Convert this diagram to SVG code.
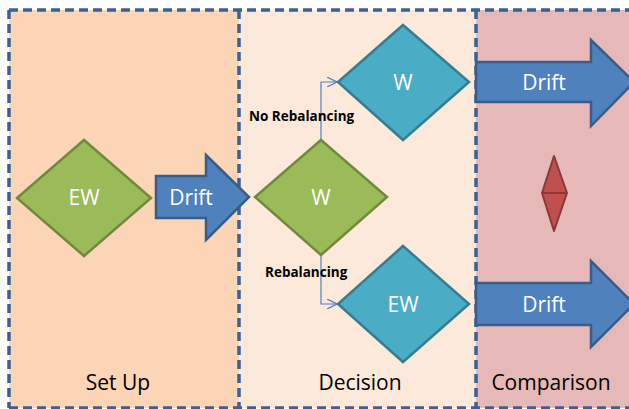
<svg xmlns="http://www.w3.org/2000/svg" width="629" height="409" viewBox="0 0 629 409">
  <style>
    .border { fill: none; stroke: #3A6094; stroke-width: 3.5; stroke-dasharray: 9 5; }
    .green { fill: #9BBB59; stroke: #71893F; stroke-width: 2.5; }
    .teal { fill: #4BACC6; stroke: #357D91; stroke-width: 2.5; }
    .arrow { fill: #4F81BD; stroke: #385D8A; stroke-width: 2.5; stroke-linejoin: miter; }
    .in { font-family: "Open Sans", "Liberation Sans", sans-serif; font-size: 21px; fill: #FFFFFF; text-anchor: middle; }
    .title { font-family: "Open Sans", "Liberation Sans", sans-serif; font-size: 21px; fill: #000000; text-anchor: middle; }
    .edge-label { font-family: "Open Sans", "Liberation Sans", sans-serif; font-size: 13.5px; font-weight: bold; fill: #000000; }
    .link { fill: none; stroke: #4F81BD; stroke-width: 1.2; }
  </style>
  <defs>
    <marker id="open-arrow" viewBox="0 0 10 10" refX="10" refY="5" markerWidth="10" markerHeight="10" markerUnits="userSpaceOnUse" orient="auto">
      <path d="M0,0 L10,5 L0,10" fill="none" stroke="#4F81BD" stroke-width="1.2"/>
    </marker>
  </defs>

  <rect width="629" height="409" fill="#FFFFFF"/>

  <!-- stage panels -->
  <g id="panel-setup">
    <rect x="9" y="10" width="230" height="398" fill="#FBD5B5"/>
    <text class="title" x="118" y="390">Set Up</text>
  </g>
  <g id="panel-decision">
    <rect x="239" y="10" width="237" height="398" fill="#FDE9D9"/>
    <text class="title" x="360" y="390">Decision</text>
  </g>
  <g id="panel-comparison">
    <rect x="476" y="10" width="170" height="398" fill="#E6B9B8"/>
    <text class="title" x="551" y="390">Comparison</text>
  </g>
  <!-- dashed outline and the two dividers, drawn once each -->
  <g id="panel-borders">
    <path class="border" d="M9,10 H646 M9,408 H646 M9,10 V408"/>
    <path class="border" d="M239,10 V408 M476,10 V408"/>
  </g>

  <!-- connectors -->
  <g id="connectors">
    <path class="link" d="M321,140 V82 H337" marker-end="url(#open-arrow)"/>
    <path class="link" d="M321,255 V304 H337" marker-end="url(#open-arrow)"/>
    <text class="edge-label" x="249" y="121">No Rebalancing</text>
    <text class="edge-label" x="265" y="277">Rebalancing</text>
  </g>

  <g id="node-ew-start">
    <polygon class="green" points="84,140 151,198 84,256 17,198"/>
    <text class="in" x="84" y="205">EW</text>
  </g>

  <g id="arrow-drift-setup">
    <polygon class="arrow" points="156,176 206,176 206,155 249,197 206,240 206,218 156,218"/>
    <text class="in" x="191" y="205">Drift</text>
  </g>

  <g id="node-w-decision">
    <polygon class="green" points="321,140 387,197 321,255 255,197"/>
    <text class="in" x="321" y="205">W</text>
  </g>

  <g id="node-w-top">
    <polygon class="teal" points="403,25 469,82 403,140 338,82"/>
    <text class="in" x="403" y="90">W</text>
  </g>

  <g id="node-ew-bottom">
    <polygon class="teal" points="403,246 469,304 403,362 338,304"/>
    <text class="in" x="403" y="312">EW</text>
  </g>

  <g id="arrow-drift-top">
    <polygon class="arrow" points="476,62 591,62 591,40 634,82 591,126 591,102 476,102"/>
    <text class="in" x="544" y="90">Drift</text>
  </g>

  <g id="arrow-drift-bottom">
    <polygon class="arrow" points="476,283 591,283 591,261 634,304 591,347 591,325 476,325"/>
    <text class="in" x="544" y="312">Drift</text>
  </g>

  <g id="compare-marker">
    <polygon points="554,156 567,193 554,231 542,193" fill="#C0504D" stroke="#8C3836" stroke-width="2" stroke-linejoin="round"/>
    <line x1="542" y1="193" x2="567" y2="193" stroke="#8C3836" stroke-width="2"/>
  </g>
</svg>
